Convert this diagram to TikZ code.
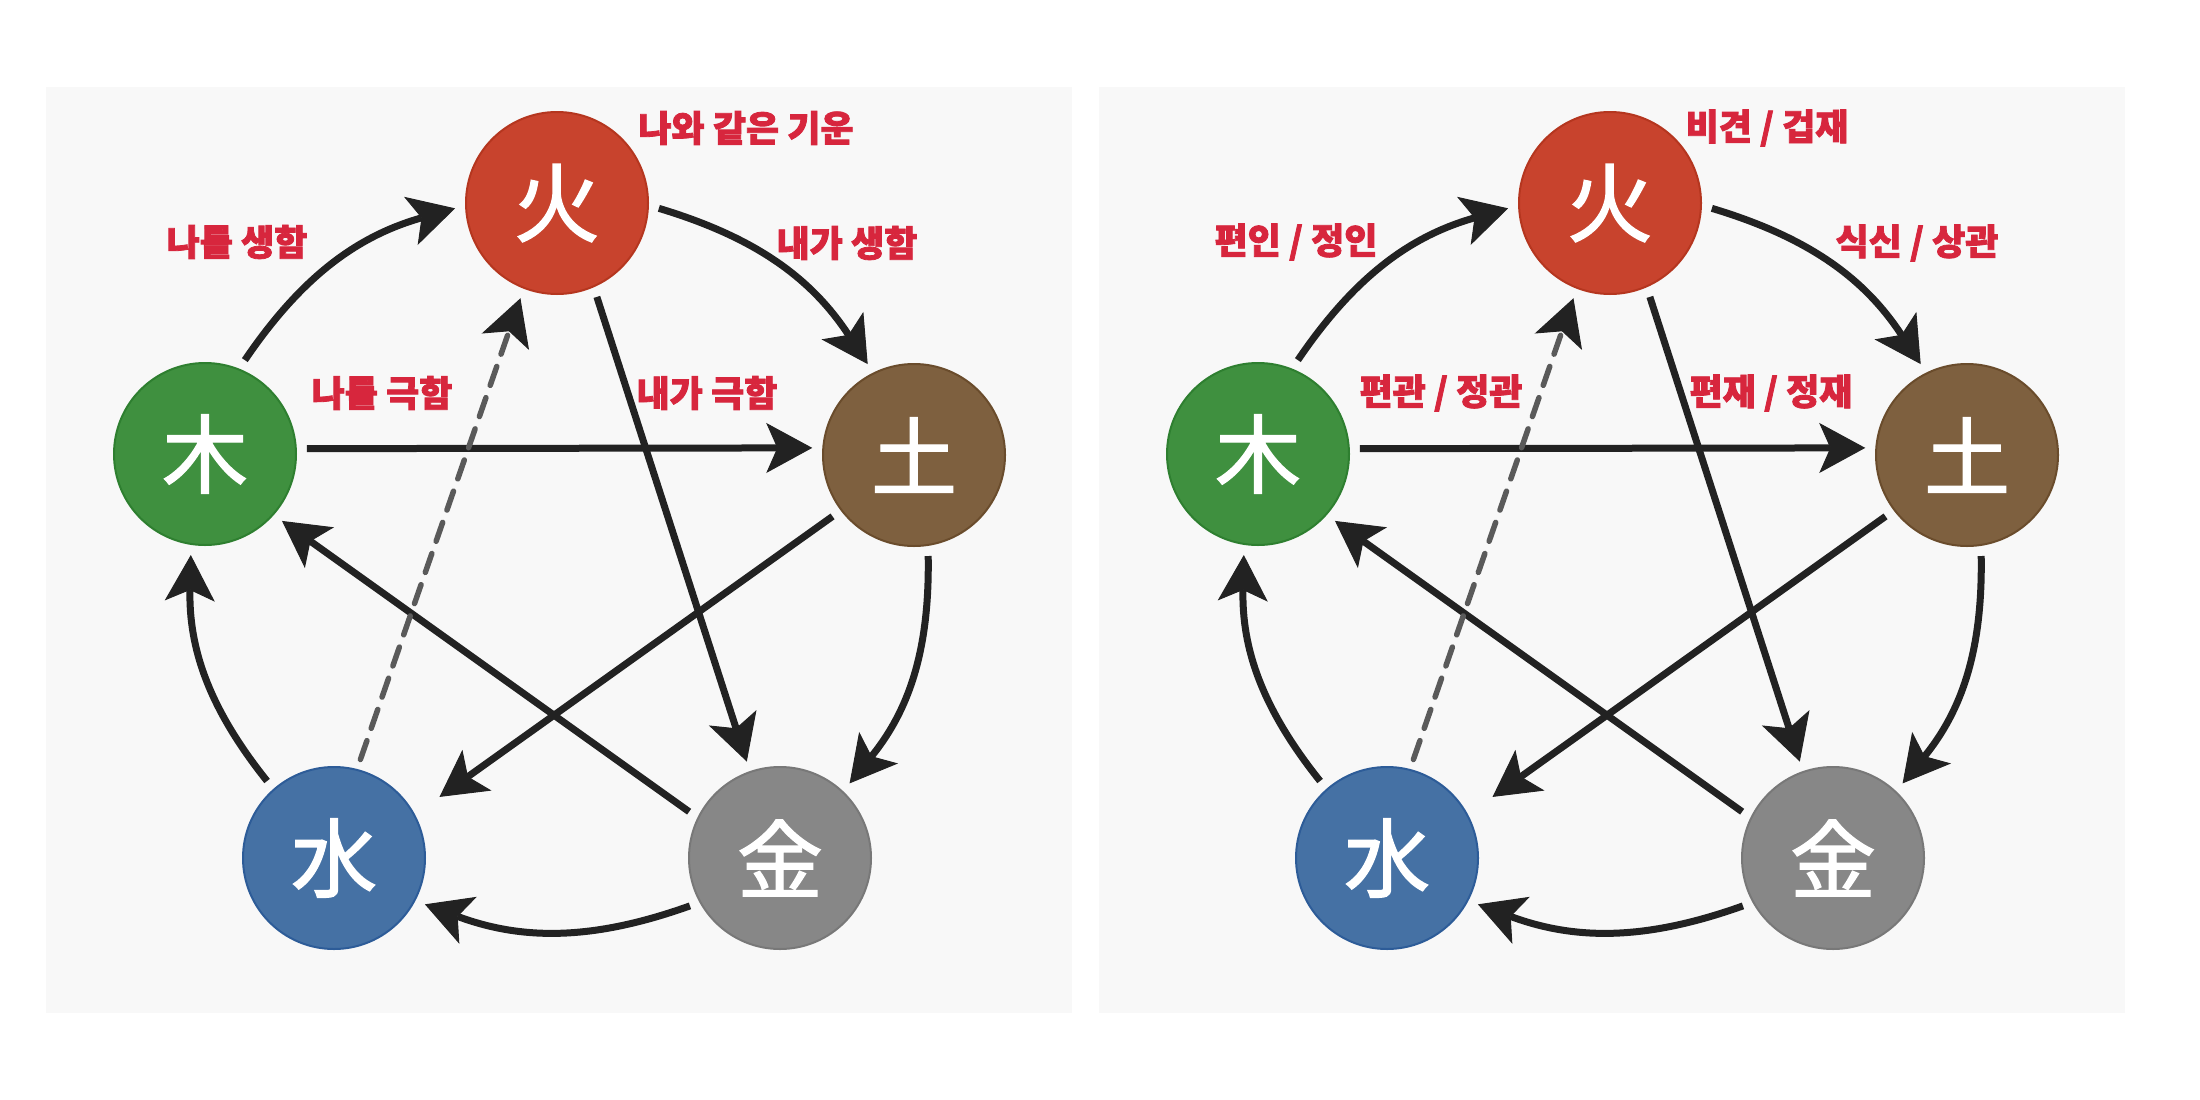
\documentclass[tikz,border=0pt]{standalone}
\usepackage{fontspec}
\newfontfamily\kr{Noto Sans CJK KR}[FakeBold=1.6]
\newfontfamily\krlab{Noto Sans CJK KR}[BoldFeatures={FakeBold=2.2}]
\usetikzlibrary{arrows.meta}
\definecolor{linec}{HTML}{222222}
\definecolor{dashc}{HTML}{5A5A5A}
\definecolor{labelc}{HTML}{D7263D}
\definecolor{panelc}{HTML}{F8F8F8}
\definecolor{firec}{HTML}{C8432D}
\definecolor{firebd}{HTML}{B5361F}
\definecolor{woodc}{HTML}{3F903F}
\definecolor{woodbd}{HTML}{2E7F30}
\definecolor{earthc}{HTML}{7E603F}
\definecolor{earthbd}{HTML}{6A4C2C}
\definecolor{waterc}{HTML}{4571A4}
\definecolor{waterbd}{HTML}{2D5C98}
\definecolor{metalc}{HTML}{878787}
\definecolor{metalbd}{HTML}{787878}
\tikzset{
  elem/.style={circle, minimum size=182pt, inner sep=0pt, outer sep=11pt, line width=2pt,
    text=white, font=\kr\fontsize{86pt}{90pt}\selectfont},
  lbl/.style={text=labelc, font=\krlab\bfseries\fontsize{36pt}{40pt}\selectfont, inner sep=0pt},
  arr/.style={draw=linec, line width=7pt,
    -{Stealth[length=46pt,width=50pt,inset=11pt,line width=1pt]}},
  dsh/.style={draw=dashc, line width=5.5pt, dash pattern=on 20pt off 13pt, line cap=round,
    -{Stealth[length=46pt,width=50pt,inset=11pt,line width=1pt,color=linec]}},
}
\newcommand\wuxing[1]{%
  \fill[panelc] (46,87) rectangle (1072,1013);
  \node[elem, fill=firec, draw=firebd] (f#1) at (557,203) {火};
  \node[elem, fill=woodc, draw=woodbd] (w#1) at (205,454) {木};
  \node[elem, fill=earthc, draw=earthbd] (t#1) at (914,455) {土};
  \node[elem, fill=waterc, draw=waterbd] (s#1) at (334,858) {水};
  \node[elem, fill=metalc, draw=metalbd] (m#1) at (780,858) {金};
  % generating cycle
  \draw[arr] (w#1.67) to[bend left=20] (f#1.183);
  \draw[arr] (f#1.357) to[bend left=20] (t#1.117);
  \draw[arr] (t#1.-82) to[bend left=20] (m#1.47);
  \draw[arr] (m#1.208) to[bend left=20] (s#1.-27);
  \draw[arr] (s#1.131) to[bend left=20] (w#1.-98);
  % controlling cycle
  \draw[arr] (w#1.3) -- (t#1.176);
  \draw[arr] (f#1.-67) -- (m#1.109);
  \draw[arr, shorten >=20pt] (t#1.217) -- (s#1.29);
  \draw[arr] (m#1.153) -- (w#1.-41);
  \draw[dsh] (s#1.75) -- (f#1.249);
}
\begin{document}
\begin{tikzpicture}[x=1pt, y=-1pt]
  \useasboundingbox (0,0) rectangle (2200,1100);
  \fill[white] (0,0) rectangle (2200,1100);
  \begin{scope}
    \wuxing{a}
  \end{scope}
  \begin{scope}[xshift=1053pt]
    \wuxing{b}
  \end{scope}
  % left labels
  \node[lbl] (la1) at (746,128) {나와 같은 기운};
  \node[lbl] (la2) at (237,242) {나를 생함};
  \node[lbl] (la3) at (847,243) {내가 생함};
  \node[lbl] (la4) at (382,393) {나를 극함};
  \node[lbl] (la5) at (707,393) {내가 극함};
  % right labels
  \node[lbl] (lb1) at (1767,128) {비견 / 겁재};
  \node[lbl] (lb2) at (1296,242) {편인 / 정인};
  \node[lbl] (lb3) at (1917,243) {식신 / 상관};
  \node[lbl] (lb4) at (1441,393) {편관 / 정관};
  \node[lbl] (lb5) at (1771,393) {편재 / 정재};
\end{tikzpicture}
\end{document}
